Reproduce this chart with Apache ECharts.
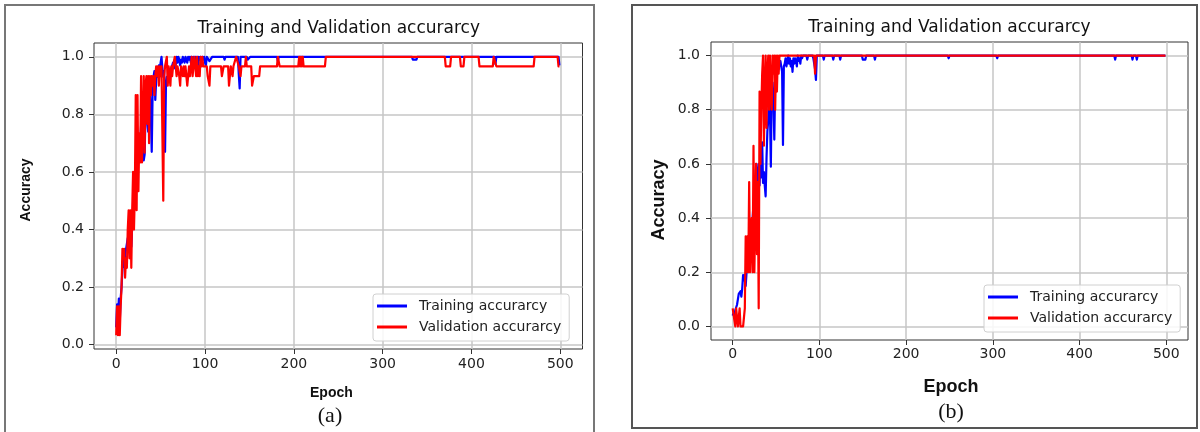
<!DOCTYPE html>
<html>
<head>
<meta charset="utf-8">
<title>Training and Validation accurarcy</title>
<script src="https://cdn.jsdelivr.net/npm/echarts@6/dist/echarts.min.js"></script>
<style>
    html, body { margin: 0; padding: 0; background: #fff; }
    #chart { width: 1200px; height: 432px; }
</style>
</head>
<body>
<div id="chart"></div>
<script>
var xTicks = [0, 100, 200, 300, 400, 500];
var yTicks = [0, 0.2, 0.4, 0.6, 0.8, 1.0];
var seriesNames = ['Training accurarcy', 'Validation accurarcy'];
var panelTitle = 'Training and Validation accurarcy';

// (a) training accuracy, [epoch, acc]
var trainA = [
    [0, 0.06], [1, 0.14], [2, 0.1], [3, 0.16], [4, 0.08], [5, 0.16], [6, 0.2], [7, 0.26], [8, 0.3], [9, 0.27],
    [10, 0.31], [11, 0.33], [12, 0.35], [13, 0.37], [14, 0.36], [15, 0.39], [16, 0.38], [17, 0.34], [18, 0.41], [19, 0.45],
    [20, 0.52], [21, 0.58], [22, 0.55], [23, 0.63], [24, 0.6], [25, 0.68], [26, 0.72], [27, 0.7], [28, 0.76], [29, 0.73],
    [30, 0.78], [31, 0.64], [32, 0.66], [33, 0.8], [34, 0.82], [35, 0.78], [36, 0.74], [37, 0.86], [38, 0.88], [39, 0.8],
    [40, 0.67], [41, 0.88], [42, 0.93], [43, 0.95], [44, 0.85], [45, 0.92], [46, 0.96], [47, 0.93], [48, 0.97], [49, 0.95],
    [50, 0.98], [51, 1.0], [52, 0.96], [53, 0.93], [54, 0.95], [55, 0.67], [56, 0.9], [57, 0.93], [58, 0.91], [59, 0.95],
    [60, 0.92], [61, 0.96], [62, 0.94], [63, 0.97], [64, 0.98], [65, 0.96], [66, 0.99], [67, 0.97], [68, 1.0], [69, 0.98],
    [70, 1.0], [71, 0.99], [72, 0.97], [73, 0.99], [74, 0.98], [75, 1.0], [76, 0.99], [77, 0.98], [78, 1.0], [79, 0.99],
    [80, 0.98], [81, 1.0], [82, 0.99], [83, 1.0], [84, 0.98], [85, 1.0], [86, 0.99], [87, 1.0], [88, 0.99], [89, 1.0],
    [90, 0.98], [91, 1.0], [92, 0.94], [93, 1.0], [94, 0.99], [95, 1.0], [96, 0.97], [97, 1.0], [98, 0.99], [99, 1.0],
    [100, 0.98], [101, 0.97], [102, 1.0], [104, 1.0], [105, 0.985], [107, 0.985], [108, 1.0], [121, 1.0], [122, 0.99], [123, 1.0],
    [137, 1.0], [138, 0.94], [139, 0.89], [140, 1.0], [147, 1.0], [148, 0.99], [150, 0.99], [151, 1.0], [181, 1.0], [182, 0.985],
    [183, 1.0], [333, 1.0], [334, 0.99], [338, 0.99], [339, 1.0], [426, 1.0], [427, 0.975], [428, 1.0], [498, 1.0], [499, 0.97]
];

// (a) validation accuracy
var valA = [
    [0, 0.033], [1, 0.133], [2, 0.033], [3, 0.133], [4, 0.033], [5, 0.133], [6, 0.2], [7, 0.333], [8, 0.3], [9, 0.333],
    [10, 0.233], [11, 0.3], [12, 0.267], [13, 0.4], [14, 0.467], [15, 0.3], [16, 0.467], [17, 0.267], [18, 0.467], [19, 0.6],
    [20, 0.4], [21, 0.533], [22, 0.867], [23, 0.467], [24, 0.867], [25, 0.533], [26, 0.733], [27, 0.633], [28, 0.933], [29, 0.633],
    [30, 0.767], [31, 0.933], [32, 0.667], [33, 0.9], [34, 0.933], [35, 0.767], [36, 0.933], [37, 0.7], [38, 0.933], [39, 0.867],
    [40, 0.933], [41, 0.9], [42, 0.933], [43, 0.867], [44, 0.933], [45, 0.967], [46, 0.933], [47, 0.967], [48, 0.9], [49, 0.967],
    [50, 0.933], [51, 0.967], [52, 0.967], [53, 0.5], [54, 0.933], [55, 0.967], [56, 0.967], [57, 1.0], [58, 0.9], [59, 0.967],
    [60, 0.933], [61, 0.9], [62, 0.967], [63, 0.933], [64, 0.967], [65, 0.967], [66, 1.0], [67, 0.967], [68, 0.933], [69, 0.967],
    [70, 0.967], [71, 0.933], [72, 0.9], [73, 0.967], [74, 0.967], [75, 0.933], [76, 0.967], [77, 0.933], [78, 0.967], [79, 0.967],
    [80, 0.9], [81, 0.933], [82, 0.967], [83, 0.933], [84, 0.967], [85, 1.0], [86, 0.933], [87, 0.967], [88, 1.0], [89, 0.967],
    [90, 0.933], [91, 1.0], [92, 0.933], [93, 0.967], [94, 0.933], [95, 1.0], [96, 0.967], [97, 1.0], [98, 0.967], [102, 0.967],
    [103, 0.933], [104, 0.933], [105, 0.9], [106, 0.967], [118, 0.967], [119, 0.933], [120, 0.933], [121, 0.967], [126, 0.967], [127, 0.9],
    [128, 0.9], [129, 0.967], [131, 0.933], [132, 0.967], [134, 0.967], [135, 1.0], [137, 1.0], [138, 0.967], [140, 0.933], [141, 0.967],
    [145, 0.967], [146, 1.0], [147, 0.967], [152, 0.967], [153, 0.9], [154, 0.9], [155, 0.933], [161, 0.933], [162, 0.967], [181, 0.967],
    [182, 1.0], [183, 1.0], [184, 0.967], [205, 0.967], [206, 1.0], [207, 0.967], [208, 1.0], [209, 0.967], [210, 1.0], [211, 0.967],
    [235, 0.967], [236, 1.0], [370, 1.0], [371, 0.967], [376, 0.967], [377, 1.0], [387, 1.0], [388, 0.967], [391, 0.967], [392, 1.0],
    [408, 1.0], [409, 0.967], [424, 0.967], [425, 1.0], [427, 1.0], [428, 0.967], [470, 0.967], [471, 1.0], [497, 1.0], [498, 0.967],
    [499, 0.967]
];

// (b) training accuracy
var trainB = [
    [0, 0.04], [1, 0.05], [2, 0.03], [3, 0.06], [4, 0.07], [5, 0.08], [6, 0.1], [7, 0.12], [8, 0.12], [9, 0.13],
    [10, 0.11], [11, 0.14], [12, 0.19], [13, 0.17], [14, 0.19], [15, 0.15], [16, 0.2], [17, 0.25], [18, 0.3], [19, 0.28],
    [20, 0.35], [21, 0.3], [22, 0.38], [23, 0.4], [24, 0.45], [25, 0.42], [26, 0.5], [27, 0.6], [28, 0.52], [29, 0.55],
    [30, 0.6], [31, 0.52], [32, 0.62], [33, 0.55], [34, 0.68], [35, 0.53], [36, 0.57], [37, 0.52], [38, 0.48], [39, 0.62],
    [40, 0.72], [41, 0.76], [42, 0.86], [43, 0.8], [44, 0.59], [45, 0.88], [46, 0.9], [47, 0.84], [48, 0.69], [49, 0.9],
    [50, 0.95], [51, 0.93], [52, 0.97], [53, 0.95], [54, 0.97], [55, 0.98], [56, 0.96], [57, 0.94], [58, 0.67], [59, 0.96],
    [60, 0.97], [61, 0.99], [62, 0.96], [63, 0.98], [64, 1.0], [65, 0.97], [66, 0.99], [67, 0.96], [68, 0.98], [69, 0.94],
    [70, 0.99], [71, 0.97], [72, 0.99], [73, 0.98], [74, 0.96], [75, 1.0], [76, 0.98], [77, 0.99], [78, 0.97], [79, 1.0],
    [80, 0.99], [81, 1.0], [85, 1.0], [86, 0.985], [87, 1.0], [92, 1.0], [93, 0.99], [94, 0.97], [95, 0.95], [96, 0.91],
    [97, 1.0], [104, 1.0], [105, 0.985], [106, 1.0], [115, 1.0], [116, 0.985], [117, 1.0], [123, 1.0], [124, 0.985], [125, 1.0],
    [149, 1.0], [150, 0.985], [153, 0.985], [154, 1.0], [163, 1.0], [164, 0.985], [165, 1.0], [248, 1.0], [249, 0.99], [250, 1.0],
    [304, 1.0], [305, 0.99], [306, 1.0], [440, 1.0], [441, 0.985], [442, 1.0], [460, 1.0], [461, 0.985], [462, 1.0], [465, 1.0],
    [466, 0.985], [467, 1.0], [499, 1.0]
];

// (b) validation accuracy
var valB = [
    [0, 0.067], [1, 0.067], [2, 0.067], [3, 0], [4, 0.067], [5, 0.067], [6, 0], [7, 0], [8, 0.067], [9, 0],
    [10, 0], [11, 0], [12, 0], [13, 0], [14, 0.067], [15, 0.333], [16, 0.2], [17, 0.333], [18, 0.2], [19, 0.533],
    [20, 0.2], [21, 0.333], [22, 0.4], [23, 0.2], [24, 0.667], [25, 0.2], [26, 0.4], [27, 0.6], [28, 0.267], [29, 0.533],
    [30, 0.067], [31, 0.867], [32, 0.6], [33, 0.8], [34, 0.933], [35, 1.0], [36, 0.667], [37, 0.867], [38, 1.0], [39, 0.733],
    [40, 0.933], [41, 1.0], [42, 0.8], [43, 1.0], [44, 0.867], [45, 0.8], [46, 1.0], [47, 0.933], [48, 1.0], [49, 0.8],
    [50, 1.0], [51, 0.867], [52, 1.0], [53, 0.933], [54, 1.0], [94, 1.0], [95, 0.933], [96, 1.0], [499, 1.0]
];

var chart = echarts.init(document.getElementById('chart'));

function makeGrid(left, top, width, height) {
    return {
        left: left, top: top, width: width, height: height,
        show: true,
        borderColor: '#333',
        borderWidth: 1,
        backgroundColor: 'transparent',
        outerBoundsMode: 'none'
    };
}

function makeXAxis(idx, margin) {
    return {
        type: 'value', gridIndex: idx, min: -25, max: 525,
        axisLine: { show: false, onZero: false },
        axisTick: { show: true, length: 5, customValues: xTicks, lineStyle: { color: '#333' } },
        axisLabel: { customValues: xTicks, margin: margin, color: '#222', fontSize: 14, fontFamily: 'DejaVu Sans' },
        splitLine: { show: true, lineStyle: { color: '#c6c6c6', width: 1.5 } }
    };
}

function makeYAxis(idx, min, max, margin) {
    return {
        type: 'value', gridIndex: idx, min: min, max: max,
        axisLine: { show: false, onZero: false },
        axisTick: { show: true, length: 5, customValues: yTicks, lineStyle: { color: '#333' } },
        axisLabel: {
            customValues: yTicks, margin: margin, color: '#222', fontSize: 14, fontFamily: 'DejaVu Sans',
            formatter: function (v) { return v.toFixed(1); }
        },
        splitLine: { show: true, lineStyle: { color: '#c6c6c6', width: 1.5 } }
    };
}

function makeLine(name, data, idx, color) {
    return {
        type: 'line', name: name, data: data,
        xAxisIndex: idx, yAxisIndex: idx,
        showSymbol: false, symbol: 'none',
        lineStyle: { width: 2.2, color: color, join: 'round' },
        itemStyle: { color: color },
        animation: false
    };
}

function makeLegend(left, top) {
    return {
        data: seriesNames,
        orient: 'vertical',
        left: left, top: top,
        icon: 'rect', itemWidth: 30, itemHeight: 3, itemGap: 5,
        padding: [4, 8, 6, 4],
        borderColor: '#d0d0d0', borderWidth: 1, borderRadius: 3,
        backgroundColor: 'rgba(255,255,255,0.85)',
        textStyle: { fontSize: 14, fontFamily: 'DejaVu Sans', color: '#222', lineHeight: 16, padding: [0, 0, 0, 7] },
        selectedMode: false
    };
}

function label(text, x, y, font, rotate) {
    return {
        type: 'text', x: x, y: y, rotation: rotate ? Math.PI / 2 : 0, z: 10,
        style: { text: text, font: font, fill: '#111', textAlign: 'center', textVerticalAlign: 'middle' }
    };
}

var option = {
    backgroundColor: '#fff',
    animation: false,
    grid: [makeGrid(94, 43, 488.5, 306), makeGrid(711, 42, 477, 298)],
    xAxis: [makeXAxis(0, 8), makeXAxis(1, 7)],
    yAxis: [makeYAxis(0, -0.015, 1.048, 10), makeYAxis(1, -0.05, 1.05, 11)],
    legend: [makeLegend(373, 294), makeLegend(984, 285)],
    series: [
        makeLine(seriesNames[0], trainA, 0, '#0000ff'),
        makeLine(seriesNames[1], valA, 0, '#ff0000'),
        makeLine(seriesNames[0], trainB, 1, '#0000ff'),
        makeLine(seriesNames[1], valB, 1, '#ff0000')
    ],
    graphic: [
        // panel frames
        { type: 'rect', shape: { x: 5, y: 5, width: 589, height: 440 }, style: { fill: 'none', stroke: '#777', lineWidth: 2 } },
        { type: 'rect', shape: { x: 632, y: 5, width: 565, height: 423 }, style: { fill: 'none', stroke: '#555', lineWidth: 2 } },
        label(panelTitle, 338.7, 29, '17px "DejaVu Sans"'),
        label(panelTitle, 949.4, 28, '17px "DejaVu Sans"'),
        label('Accuracy', 26, 190, 'bold 14px "Liberation Sans"', true),
        label('Accuracy', 659, 200, 'bold 18px "Liberation Sans"', true),
        label('Epoch', 331.4, 392.7, 'bold 14px "Liberation Sans"'),
        label('Epoch', 951, 386.7, 'bold 18px "Liberation Sans"'),
        label('(a)', 330, 416.5, '22px "Liberation Serif"'),
        label('(b)', 951, 412, '22px "Liberation Serif"')
    ]
};

chart.setOption(option);
</script>
</body>
</html>
